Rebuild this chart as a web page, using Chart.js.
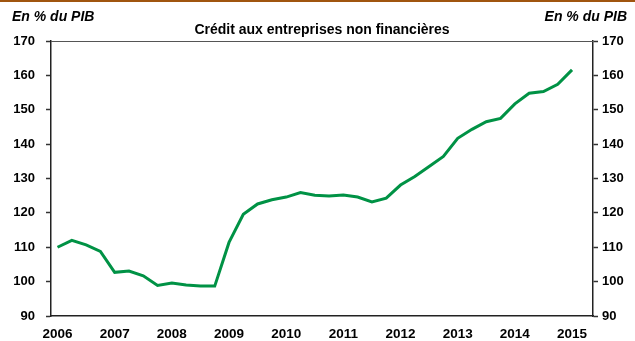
<!DOCTYPE html>
<html>
<head>
<meta charset="utf-8">
<script src="https://cdn.jsdelivr.net/npm/chart.js@4"></script>
<style>
  html, body { margin: 0; padding: 0; background: #fff; }
  #wrap { width: 635px; height: 341px; position: relative; }
</style>
</head>
<body>
<div id="wrap"><canvas id="credit"></canvas></div>
<script>
// trimestres 2006T1 .. 2015T1
const quarters = [
  '2006T1','2006T2','2006T3','2006T4','2007T1','2007T2','2007T3','2007T4',
  '2008T1','2008T2','2008T3','2008T4','2009T1','2009T2','2009T3','2009T4',
  '2010T1','2010T2','2010T3','2010T4','2011T1','2011T2','2011T3','2011T4',
  '2012T1','2012T2','2012T3','2012T4','2013T1','2013T2','2013T3','2013T4',
  '2014T1','2014T2','2014T3','2014T4','2015T1'
];
// crédit aux SNF, en % du PIB
const credit = [
  110.0, 112.0, 110.7, 108.8, 102.7, 103.1, 101.7, 98.9,
  99.6, 99.0, 98.7, 98.7, 111.4, 119.6, 122.6, 123.8,
  124.6, 125.9, 125.1, 124.9, 125.2, 124.6, 123.2, 124.3,
  128.1, 130.6, 133.5, 136.4, 141.7, 144.3, 146.5, 147.5,
  151.7, 154.8, 155.3, 157.4, 161.6
];
const years = [2006, 2007, 2008, 2009, 2010, 2011, 2012, 2013, 2014, 2015];
const yTicks = [90, 100, 110, 120, 130, 140, 150, 160, 170];
const unitLabel = 'En % du PIB';
const titleText = 'Crédit aux entreprises non financières';

const points = quarters.map((q, i) => ({
  x: parseInt(q.slice(0, 4)) + (parseInt(q.slice(5)) - 1) / 4,
  y: credit[i]
}));

const FONT = '"Liberation Sans", Arial, sans-serif';

// bandeau du haut, titres et bord supérieur du cadre
const decor = {
  id: 'decor',
  afterDraw(chart) {
    const ctx = chart.ctx;
    const area = chart.chartArea;
    ctx.save();
    ctx.fillStyle = '#a0550f';
    ctx.fillRect(0, 0, chart.width, 2);

    ctx.strokeStyle = '#555';
    ctx.lineWidth = 1;
    ctx.beginPath();
    ctx.moveTo(area.left, area.top + 0.5);
    ctx.lineTo(area.right, area.top + 0.5);
    ctx.stroke();

    ctx.fillStyle = '#000';
    ctx.textBaseline = 'middle';
    ctx.font = 'italic bold 14px ' + FONT;
    ctx.textAlign = 'left';
    ctx.fillText(unitLabel, 12, 17);
    ctx.textAlign = 'right';
    ctx.fillText(unitLabel, 627, 17);

    ctx.font = 'bold 14px ' + FONT;
    ctx.textAlign = 'center';
    ctx.fillText(titleText, 322, 30);
    ctx.restore();
  }
};

const yAxis = (pos, width, pad) => ({
  type: 'linear',
  position: pos,
  min: 90,
  max: 170,
  afterBuildTicks: s => { s.ticks = yTicks.map(v => ({ value: v })); },
  afterFit: s => { s.width = width; },
  grid: { drawOnChartArea: false, tickLength: 5, color: '#333', tickWidth: 1.5 },
  border: { color: '#222', width: 1.5 },
  ticks: {
    color: '#000',
    padding: pad,
    font: { family: FONT, size: 13, weight: 'bold' }
  }
});

new Chart(document.getElementById('credit'), {
  type: 'line',
  data: {
    datasets: [{
      data: points,
      borderColor: '#009245',
      borderWidth: 3,
      pointRadius: 0,
      tension: 0,
      fill: false
    }]
  },
  options: {
    responsive: true,
    maintainAspectRatio: false,
    animation: false,
    layout: { padding: { top: 41, left: 0, right: 0, bottom: 0 } },
    plugins: { legend: { display: false }, tooltip: { enabled: false } },
    scales: {
      x: {
        type: 'linear',
        min: 2005.886,
        max: 2015.367,
        afterBuildTicks: s => { s.ticks = years.map(v => ({ value: v })); },
        afterFit: s => { s.height = 25; },
        grid: { drawOnChartArea: false, drawTicks: false },
        border: { color: '#222', width: 1.5 },
        ticks: {
          color: '#000',
          padding: 10,
          maxRotation: 0,
          callback: v => String(v),
          font: { family: FONT, size: 13.5, weight: 'bold' }
        }
      },
      y: yAxis('left', 51, 11),
      y2: yAxis('right', 42, 4)
    }
  },
  plugins: [decor]
});
</script>
</body>
</html>
